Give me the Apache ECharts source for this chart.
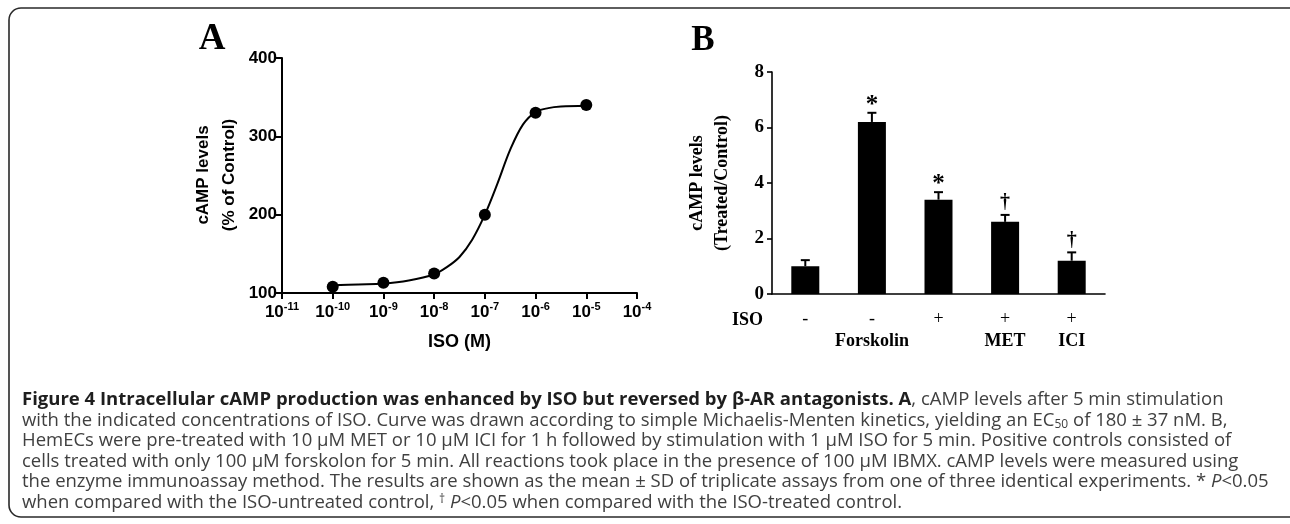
<!DOCTYPE html>
<html><head><meta charset="utf-8">
<script src="https://cdn.jsdelivr.net/npm/echarts@6/dist/echarts.min.js"></script>
<style>html,body{margin:0;padding:0;background:#fff}#c{width:1290px;height:524px}</style>
</head><body><div id="c"></div>
<script>
// ---- Panel A data (x as log10 of ISO molar concentration) ----
const isoExponent = [-10, -9, -8, -7, -6, -5];
const campPercent = [108, 113, 125, 200, 330, 340];
const fitExponent = [-10, -9.5, -9, -8.5, -8, -7.75, -7.5, -7.25, -7, -6.75, -6.5, -6.25, -6, -5.75, -5.5, -5];
const fitPercent  = [110, 111, 112, 116, 124, 133, 146, 168, 200, 240, 283, 315, 331, 336, 338, 339];
// ---- Panel B data ----
const barCategories = ['Control', 'Forskolin', 'ISO', 'ISO+MET', 'ISO+ICI'];
const barIsoLabels = ['-', '-', '+', '+', '+'];
const barTreatLabels = ['', 'Forskolin', '', 'MET', 'ICI'];
const barMeans = [1.0, 6.2, 3.4, 2.6, 1.2];
const barSD = [0.22, 0.33, 0.27, 0.25, 0.3];
const barMarks = ['', '*', '*', '\u2020', '\u2020'];

const SANS = '"Liberation Sans", Arial, sans-serif';
const SERIF = '"Liberation Serif", "Times New Roman", serif';
const CAP = '"Open Sans", "Noto Sans", sans-serif';
const CAPSIZE = 18.5;

const chart = echarts.init(document.getElementById('c'), null, {renderer: 'canvas'});

const capRich = {
  b: {fontFamily: CAP, fontSize: CAPSIZE, fontWeight: 'bold', fill: '#1e1e1e'},
  n: {fontFamily: CAP, fontSize: CAPSIZE, fill: '#404040'},
  i: {fontFamily: CAP, fontSize: CAPSIZE, fontStyle: 'italic', fill: '#404040'},
  sub: {fontFamily: CAP, fontSize: 12, fill: '#404040', verticalAlign: 'bottom'},
  sup: {fontFamily: CAP, fontSize: 12, fill: '#404040', verticalAlign: 'top'}
};
const captionLines = [
  '{b|Figure 4 Intracellular cAMP production was enhanced by ISO but reversed by \u03b2-AR antagonists. A}{n|, cAMP levels after 5 min stimulation}',
  '{n|with the indicated concentrations of ISO. Curve was drawn according to simple Michaelis-Menten kinetics, yielding an EC}{sub|50}{n| of 180 \u00b1 37 nM. B,}',
  '{n|HemECs were pre-treated with 10 \u03bcM MET or 10 \u03bcM ICI for 1 h followed by stimulation with 1 \u03bcM ISO for 5 min. Positive controls consisted of}',
  '{n|cells treated with only 100 \u03bcM forskolon for 5 min. All reactions took place in the presence of 100 \u03bcM IBMX. cAMP levels were measured using}',
  '{n|the enzyme immunoassay method. The results are shown as the mean \u00b1 SD of triplicate assays from one of three identical experiments. * }{i|P}{n|<0.05}',
  '{n|when compared with the ISO-untreated control, }{sup|\u2020}{n| }{i|P}{n|<0.05 when compared with the ISO-treated control.}'
];
const captionY = [400, 421, 441, 462, 482, 503];

const graphics = [
  {type: 'rect', shape: {x: 9, y: 8, width: 1320, height: 509, r: 12}, style: {fill: 'none', stroke: '#2a2a2a', lineWidth: 1.6}, silent: true},
  {type: 'text', x: 212, y: 39, style: {text: 'A', font: 'bold 37px ' + SERIF, fill: '#000', align: 'center', verticalAlign: 'middle'}},
  {type: 'text', x: 703, y: 41, style: {text: 'B', font: 'bold 35px ' + SERIF, fill: '#000', align: 'center', verticalAlign: 'middle'}},
  {type: 'text', x: 216, y: 175, rotation: Math.PI / 2, style: {text: 'cAMP levels\n(% of Control)', font: 'bold 17px ' + SANS, lineHeight: 26, fill: '#000', align: 'center', verticalAlign: 'middle'}},
  {type: 'text', x: 710, y: 183, rotation: Math.PI / 2, style: {text: 'cAMP levels\n(Treated/Control)', font: 'bold 18px ' + SERIF, lineHeight: 25, fill: '#000', align: 'center', verticalAlign: 'middle'}},
  {type: 'text', x: 763, y: 320, style: {text: 'ISO', font: 'bold 18px ' + SERIF, fill: '#000', align: 'right', verticalAlign: 'middle'}}
];
captionLines.forEach((t, k) => {
  graphics.push({type: 'text', x: 22, y: captionY[k], style: {text: t, rich: capRich, verticalAlign: 'middle', align: 'left'}});
});

chart.setOption({
  animation: false,
  backgroundColor: '#fff',
  grid: [
    {left: 282, top: 58, width: 355, height: 235, containLabel: false, outerBoundsMode: 'none'},
    {left: 772, top: 72, width: 333, height: 222, containLabel: false, outerBoundsMode: 'none'}
  ],
  xAxis: [
    {gridIndex: 0, type: 'value', min: -11, max: -4, interval: 1,
     splitLine: {show: false},
     axisLine: {onZero: false, lineStyle: {color: '#000', width: 2}},
     axisTick: {inside: false, length: 6, lineStyle: {color: '#000', width: 2}},
     axisLabel: {margin: 8, formatter: v => '{b|10}{s|' + v + '}',
       rich: {b: {fontFamily: SANS, fontWeight: 'bold', fontSize: 17, color: '#000', lineHeight: 22},
              s: {fontFamily: SANS, fontWeight: 'bold', fontSize: 11, color: '#000', verticalAlign: 'top'}}},
     name: 'ISO (M)', nameLocation: 'middle', nameGap: 40,
     nameTextStyle: {fontFamily: SANS, fontWeight: 'bold', fontSize: 18, color: '#000'}},
    {gridIndex: 1, type: 'category', data: barCategories,
     axisLine: {lineStyle: {color: '#000', width: 1.6}},
     axisTick: {inside: true, length: 5, lineStyle: {color: '#000', width: 1.6}},
     axisLabel: {margin: 14, interval: 0,
       formatter: (v, i) => '{p|' + barIsoLabels[i] + '}\n{t|' + (barTreatLabels[i] || ' ') + '}',
       rich: {p: {fontFamily: SERIF, fontSize: 18, color: '#000', lineHeight: 22},
              t: {fontFamily: SERIF, fontWeight: 'bold', fontSize: 18, color: '#000', lineHeight: 22}}}}
  ],
  yAxis: [
    {gridIndex: 0, type: 'value', min: 100, max: 400, interval: 100,
     splitLine: {show: false},
     axisLine: {show: true, onZero: false, lineStyle: {color: '#000', width: 2}},
     axisTick: {show: true, length: 6, lineStyle: {color: '#000', width: 2}},
     axisLabel: {margin: 5, fontFamily: SANS, fontWeight: 'bold', fontSize: 17, color: '#000'}},
    {gridIndex: 1, type: 'value', min: 0, max: 8, interval: 2,
     splitLine: {show: false},
     axisLine: {show: true, lineStyle: {color: '#000', width: 1.6}},
     axisTick: {show: true, length: 5, lineStyle: {color: '#000', width: 1.6}},
     axisLabel: {margin: 8, fontFamily: SERIF, fontWeight: 'bold', fontSize: 19, color: '#000'}}
  ],
  series: [
    {type: 'line', xAxisIndex: 0, yAxisIndex: 0, data: fitExponent.map((x, i) => [x, fitPercent[i]]),
     smooth: 0.35, showSymbol: false, symbol: 'none', lineStyle: {color: '#000', width: 2}, z: 2},
    {type: 'scatter', xAxisIndex: 0, yAxisIndex: 0, data: isoExponent.map((x, i) => [x, campPercent[i]]),
     symbol: 'circle', symbolSize: 12, itemStyle: {color: '#000', opacity: 1}, z: 3},
    {type: 'bar', xAxisIndex: 1, yAxisIndex: 1, data: barMeans, barWidth: 28, itemStyle: {color: '#000'}, z: 2},
    {type: 'custom', xAxisIndex: 1, yAxisIndex: 1, z: 3,
     data: barMeans.map((m, i) => [i, m, barSD[i]]),
     encode: {x: 0, y: 1},
     renderItem: (params, api) => {
       const i = api.value(0), m = api.value(1), sd = api.value(2);
       const b = api.coord([i, m]);
       const t = api.coord([i, m + sd]);
       const cap = 4.5;
       const mark = barMarks[i];
       const children = [
         {type: 'line', shape: {x1: b[0], y1: b[1], x2: t[0], y2: t[1]}, style: {stroke: '#000', lineWidth: 2}},
         {type: 'line', shape: {x1: t[0] - cap, y1: t[1], x2: t[0] + cap, y2: t[1]}, style: {stroke: '#000', lineWidth: 2}}
       ];
       if (mark) {
         children.push({type: 'text', x: t[0], y: t[1] + (mark === '*' ? 5 : -2),
           style: {text: mark, font: (mark === '*' ? 'bold 25px ' : 'bold 20px ') + SERIF, fill: '#000', align: 'center', verticalAlign: 'bottom'}});
       }
       return {type: 'group', children};
     }}
  ],
  graphic: graphics
});
</script></body></html>
